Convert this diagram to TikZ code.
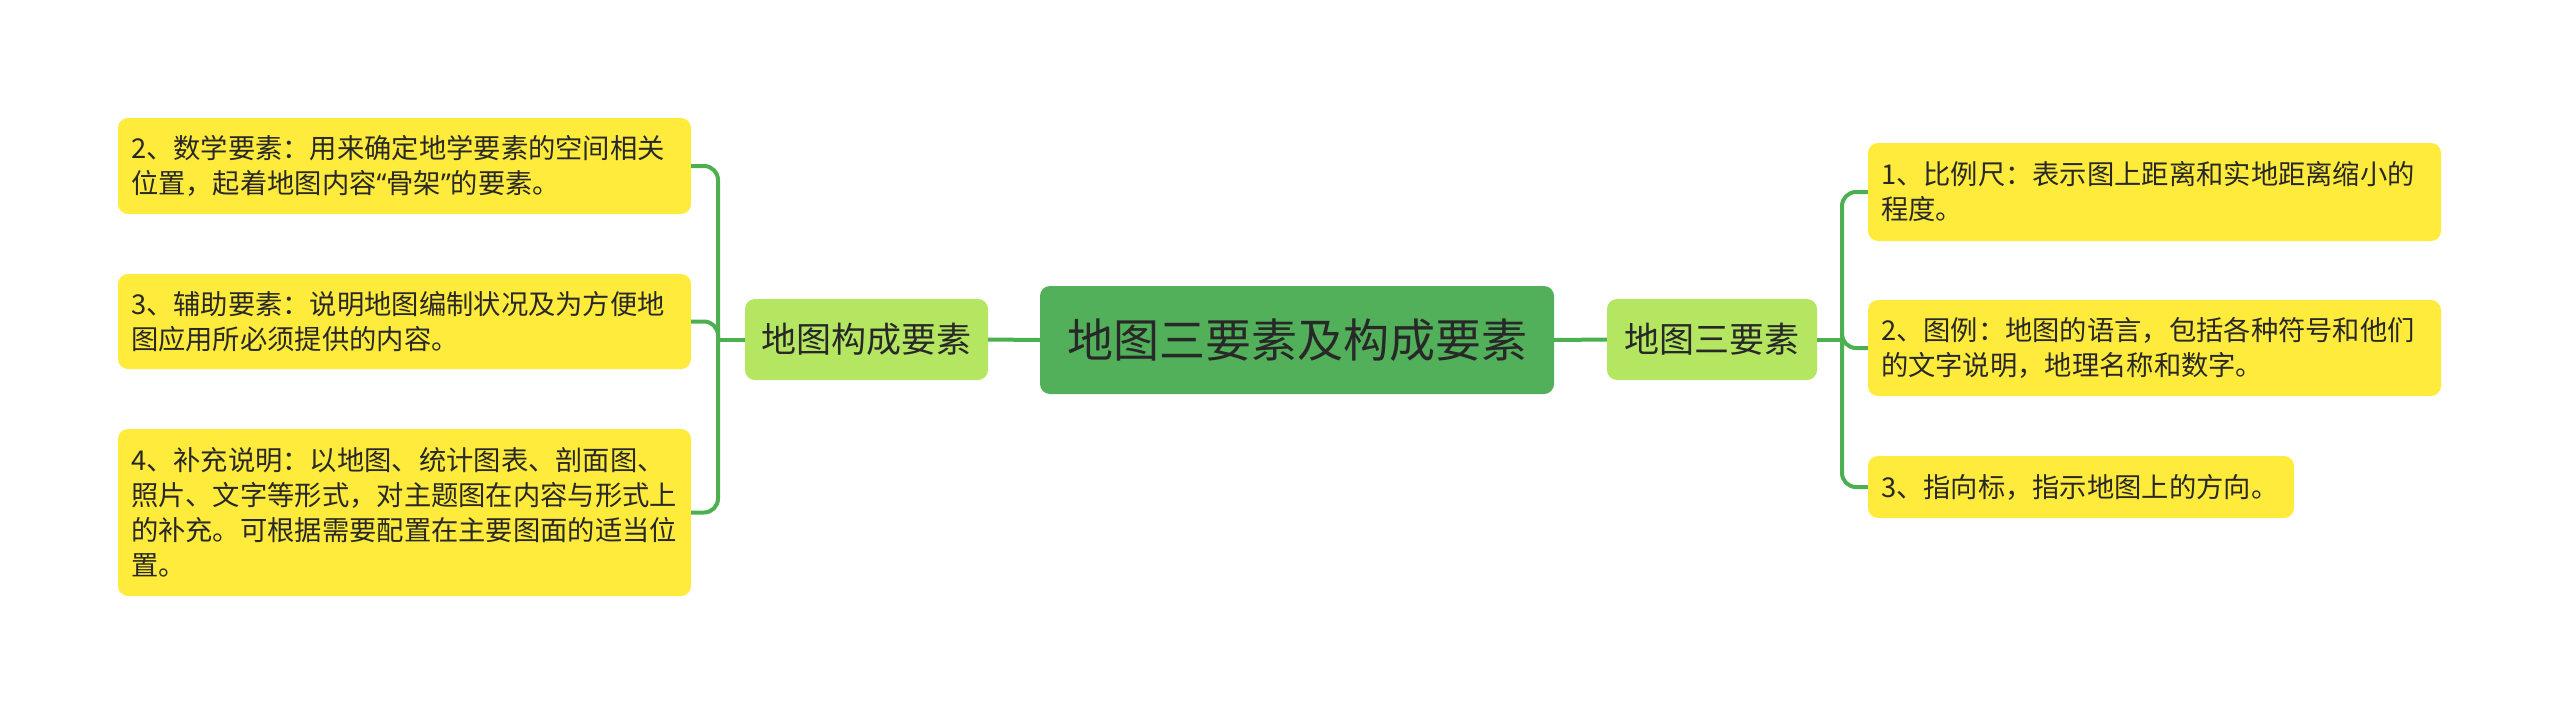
\documentclass[tikz,border=0pt]{standalone}
\usepackage{fontspec}
\setmainfont{Noto Sans CJK SC}
\newfontfamily\latinq{Noto Sans}
\definecolor{leafyellow}{RGB}{255,235,59}
\definecolor{branchgreen}{RGB}{181,230,98}
\definecolor{rootgreen}{RGB}{82,175,90}
\definecolor{linegreen}{RGB}{76,175,80}
\definecolor{txt}{RGB}{40,40,40}
\tikzset{
  leaf/.style={fill=leafyellow, rounded corners=10pt, inner xsep=13pt, inner ysep=0pt,
    text width=547pt, align=left, text=txt, font=\fontsize{27.3}{35}\selectfont},
  branchbox/.style={fill=branchgreen, rounded corners=10pt, inner sep=0pt, text=txt,
    font=\fontsize{35}{40}\selectfont},
  rootbox/.style={fill=rootgreen, rounded corners=10pt, inner sep=0pt, text=txt,
    font=\fontsize{46}{50}\selectfont},
  conn/.style={draw=linegreen, line width=4pt},
  elbow/.style={conn, rounded corners=14pt}
}
\begin{document}
\begin{tikzpicture}[x=1pt,y=-1pt]
\useasboundingbox (0,0) rectangle (2560,715);
% root
\node[rootbox, minimum width=514pt, minimum height=108pt] (c) at (1297,340) {地图三要素及构成要素};
% branches
\node[branchbox, minimum width=243pt, minimum height=81pt] (b1) at (866.5,339.5) {地图构成要素};
\node[branchbox, minimum width=210pt, minimum height=81pt] (b2) at (1712,339.5) {地图三要素};
% left leaves
\node[leaf, minimum height=96pt] (l2) at (404.5,166) {2、数学要素：用来确定地学要素的空间相关\\位置，起着地图内容{\latinq “}骨架{\latinq ”}的要素。};
\node[leaf, minimum height=95pt] (l3) at (404.5,321.5) {3、辅助要素：说明地图编制状况及为方便地\\图应用所必须提供的内容。};
\node[leaf, minimum height=167pt] (l4) at (404.5,512.5) {4、补充说明：以地图、统计图表、剖面图、\\照片、文字等形式，对主题图在内容与形式上\\的补充。可根据需要配置在主要图面的适当位\\置。};
% right leaves
\node[leaf, minimum height=98pt] (r1) at (2154.5,192) {1、比例尺：表示图上距离和实地距离缩小的\\程度。};
\node[leaf, minimum height=96pt] (r2) at (2154.5,348) {2、图例：地图的语言，包括各种符号和他们\\的文字说明，地理名称和数字。};
\node[leaf, text width=400pt, minimum height=62pt] (r3) at (2081,487) {3、指向标，指示地图上的方向。};
% junctions
\coordinate (lj) at (718,339.5);
\coordinate (rj) at (1842,339.5);
% connectors
\draw[conn] (c.west) -- (b1.east);
\draw[conn] (c.east) -- (b2.west);
\draw[conn] (b1.west) -- (lj);
\draw[conn] (b2.east) -- (rj);
\draw[elbow] (lj) |- (l2.east);
\draw[elbow] (lj) |- (l3.east);
\draw[elbow] (lj) |- (l4.east);
\draw[elbow] (rj) |- (r1.west);
\draw[elbow] (rj) |- (r2.west);
\draw[elbow] (rj) |- (r3.west);
\end{tikzpicture}
\end{document}
